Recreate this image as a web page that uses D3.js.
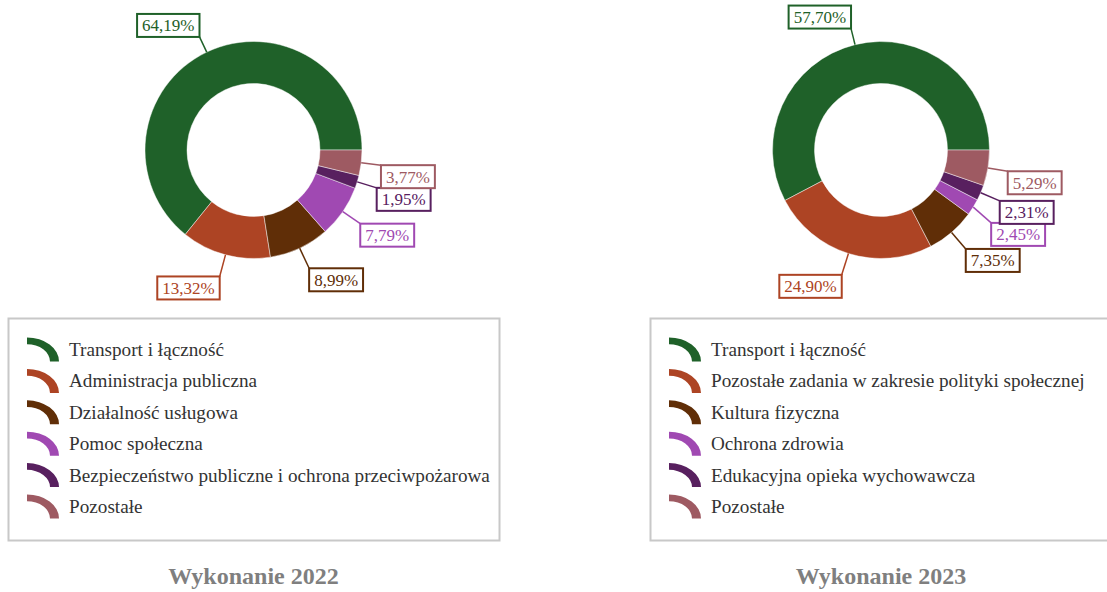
<!DOCTYPE html>
<html>
<head>
<meta charset="utf-8">
<script src="https://cdn.jsdelivr.net/npm/d3@7"></script>
<style>
  html, body { margin: 0; padding: 0; background: #fff; }
  svg { display: block; }
  text { font-family: "Liberation Serif", "Times New Roman", "DejaVu Serif", serif; }
</style>
</head>
<body>
<svg id="chart" width="1107" height="592"></svg>
<script>
// Budget structure by section (share of spending, %)
const categories2022 = [
  "Transport i łączność",
  "Administracja publiczna",
  "Działalność usługowa",
  "Pomoc społeczna",
  "Bezpieczeństwo publiczne i ochrona przeciwpożarowa",
  "Pozostałe"
];
const values2022 = [64.19, 13.32, 8.99, 7.79, 1.95, 3.77];

const categories2023 = [
  "Transport i łączność",
  "Pozostałe zadania w zakresie polityki społecznej",
  "Kultura fizyczna",
  "Ochrona zdrowia",
  "Edukacyjna opieka wychowawcza",
  "Pozostałe"
];
const values2023 = [57.70, 24.90, 7.35, 2.45, 2.31, 5.29];

const titles = ["Wykonanie 2022", "Wykonanie 2023"];
const sliceColors = ["#1f6129", "#ad4424", "#602e07", "#a049b2", "#58205f", "#9e5a62"];

const panels = [
  { title: titles[0], categories: categories2022, values: values2022, cx: 253.5, legendX: 8 },
  { title: titles[1], categories: categories2023, values: values2023, cx: 881, legendX: 650 }
];

const svg = d3.select("#chart");
const cy = 150;
const outerR = 108.5;
const innerR = 66.5;
const boxH = 23;
const boxPad = 5;
const labelFont = 17;
const legendFont = 19.2;

const fmt = v => v.toFixed(2).replace(".", ",") + "%";

// slices run counter-clockwise starting at 3 o'clock
const pie = d3.pie().sort(null).value(d => d)
  .startAngle(Math.PI / 2).endAngle(Math.PI / 2 - 2 * Math.PI);
const arc = d3.arc().innerRadius(innerR).outerRadius(outerR);

// legend swatch: a flattened quarter ring
const swatchArc = d3.arc().innerRadius(23).outerRadius(32).startAngle(0).endAngle(Math.PI / 2);

panels.forEach(p => {
  const color = d3.scaleOrdinal().domain(p.categories).range(sliceColors);
  const g = svg.append("g").attr("transform", `translate(${p.cx},${cy})`);
  const arcs = pie(p.values);

  g.selectAll("path.slice")
    .data(arcs)
    .join("path")
    .attr("class", "slice")
    .attr("d", arc)
    .attr("fill", (d, i) => color(p.categories[i]))
    .attr("stroke", "rgba(255,255,255,0.45)")
    .attr("stroke-width", 1);

  // outside labels with leader lines
  const labels = arcs.map((d, i) => {
    const a = (d.startAngle + d.endAngle) / 2;
    const sx = Math.sin(a), sy = -Math.cos(a);
    const len = 19.5 + 3 * sy; // leaders point slightly further below the ring
    return {
      i, a, sx, sy,
      x0: outerR * sx, y0: outerR * sy,
      ex: (outerR + len) * sx, ey: (outerR + len) * sy,
      text: fmt(d.data),
      col: color(p.categories[i])
    };
  });

  const lg = g.append("g");
  labels.forEach(l => {
    const t = lg.append("text")
      .attr("font-size", labelFont)
      .attr("text-anchor", "middle")
      .attr("fill", l.col)
      .text(l.text);
    l.node = t;
    l.w = t.node().getComputedTextLength() + boxPad * 2;
    l.bx = l.sx >= 0 ? l.ex : l.ex - l.w;
    l.by = l.sy >= 0 ? l.ey : l.ey - boxH;
  });

  // keep boxes on each side from overlapping
  ["right", "left"].forEach(side => {
    const group = labels.filter(l => (side === "right") === (l.sx >= 0))
      .sort((a, b) => a.by - b.by);
    for (let k = 1; k < group.length; k++) {
      const prev = group[k - 1], cur = group[k];
      const minY = prev.by + boxH - 1;
      if (cur.by < minY) cur.by = minY;
    }
  });

  labels.forEach(l => {
    const cornerX = l.sx >= 0 ? l.bx : l.bx + l.w;
    const cornerY = l.sy >= 0 ? l.by : l.by + boxH;
    lg.insert("line", "text")
      .attr("x1", l.x0).attr("y1", l.y0)
      .attr("x2", cornerX).attr("y2", cornerY)
      .attr("stroke", l.col).attr("stroke-width", 1.5);
    lg.insert("rect", "text")
      .attr("x", l.bx).attr("y", l.by)
      .attr("width", l.w).attr("height", boxH)
      .attr("fill", "#fff")
      .attr("stroke", l.col).attr("stroke-width", 2);
    l.node.attr("x", l.bx + l.w / 2).attr("y", l.by + boxH / 2 + 6);
  });

  // legend
  const leg = svg.append("g").attr("transform", `translate(${p.legendX},318)`);
  leg.append("rect")
    .attr("x", 0.5).attr("y", 0.5)
    .attr("width", 491).attr("height", 222)
    .attr("fill", "none")
    .attr("stroke", "#c8c8c8").attr("stroke-width", 2);

  const rowY = d3.scalePoint().domain(p.categories).range([31.5, 188.5]);
  const items = leg.selectAll("g.item")
    .data(p.categories)
    .join("g")
    .attr("class", "item")
    .attr("transform", d => `translate(0,${rowY(d)})`);
  items.append("path")
    .attr("d", swatchArc)
    .attr("transform", "translate(19,12) scale(1,0.75)")
    .attr("fill", d => color(d));
  items.append("text")
    .attr("x", 61)
    .attr("y", 6.5)
    .attr("font-size", legendFont)
    .attr("fill", "#333")
    .text(d => d);

  // panel title
  svg.append("text")
    .attr("x", p.cx)
    .attr("y", 584)
    .attr("text-anchor", "middle")
    .attr("font-size", 24)
    .attr("font-weight", "bold")
    .attr("fill", "#7f7f7f")
    .text(p.title);
});
</script>
</body>
</html>
